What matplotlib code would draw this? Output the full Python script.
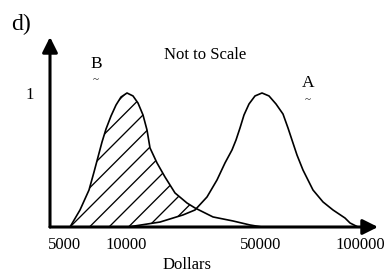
import matplotlib
matplotlib.use("Agg")
import matplotlib.pyplot as plt

plt.rcParams["font.family"] = ["Liberation Serif", "DejaVu Serif"]

# --- data (x: position along the "not to scale" axis, y: relative height) ---
b_x = [20, 30, 39, 44, 48, 52, 56, 61, 66, 71, 77, 83, 88, 93, 97, 100,
       107, 115, 125, 137, 145, 163, 183, 200, 212]
b_y = [0.0, 0.127, 0.276, 0.410, 0.522, 0.634, 0.731, 0.828, 0.910, 0.970,
       1.0, 0.978, 0.925, 0.836, 0.724, 0.590, 0.478, 0.373, 0.254, 0.179,
       0.142, 0.075, 0.045, 0.015, 0.0]

a_x = [78, 110, 133, 145, 157, 167, 175, 182, 186, 190, 194, 199, 205, 212,
       219, 226, 233, 238, 242, 247, 253, 263, 273, 283, 295, 300, 308]
a_y = [0.0, 0.037, 0.090, 0.127, 0.224, 0.351, 0.478, 0.575, 0.649, 0.739,
       0.836, 0.918, 0.978, 1.0, 0.978, 0.918, 0.843, 0.739, 0.649, 0.537,
       0.425, 0.276, 0.187, 0.127, 0.067, 0.030, 0.0]

tick_pos = [14.5, 76, 211, 310]
tick_labels = ["5000", "10000", "50000", "100000"]
crossing_x = 145  # where curve B drops below curve A

W, H = 388, 276
fig = plt.figure(figsize=(W / 100, H / 100), dpi=100)
ax = fig.add_axes([50 / W, 1 - 227 / H, 328 / W, 190 / H])
ax.set_xlim(0, 328)
ax.set_ylim(0, 190 / 134)
for s in ax.spines.values():
    s.set_visible(False)

# --- hatched region: under B, above A, left of the crossing ---
poly_x = [x for x in b_x if x <= crossing_x]
poly_y = b_y[:len(poly_x)]
a_left = [(x, y) for x, y in zip(a_x, a_y) if x <= crossing_x]
poly_x += [p[0] for p in reversed(a_left)]
poly_y += [p[1] for p in reversed(a_left)]
region = ax.fill(poly_x, poly_y, facecolor="none", edgecolor="none")[0]

# 45 degree hatch lines, ~19.5 px apart along the baseline
y_per_px = 1 / 134
for k in range(-4, 10):
    x0 = 20 + 19.5 * k
    ln, = ax.plot([x0, x0 + 200], [0, 200 * y_per_px], color="black", lw=0.95)
    ln.set_clip_path(region)

# --- curves ---
ax.plot(b_x, b_y, color="black", lw=1.2, solid_joinstyle="round")
ax.plot(a_x, a_y, color="black", lw=1.2, solid_joinstyle="round")

# --- axes with arrow heads ---
arrow = dict(arrowstyle="-|>", lw=2.2, color="black", mutation_scale=23,
             shrinkA=0, shrinkB=0)
ax.annotate("", xy=(328, 0), xytext=(0, 0), arrowprops=arrow,
            annotation_clip=False)
ax.annotate("", xy=(0, 190 / 134), xytext=(0, 0), arrowprops=arrow,
            annotation_clip=False)

# --- ticks ---
ax.set_xticks(tick_pos, tick_labels)
ax.set_yticks([1], ["1"])
ax.tick_params(axis="x", length=0, pad=7.5, labelsize=12)
ax.tick_params(axis="y", length=0, pad=11.5, labelsize=12)

# --- labels ---
ax.text(137.5, -0.284, "Dollars", ha="center", va="center", fontsize=12)
ax.text(155, 1.284, "Not to Scale", ha="center", va="center", fontsize=12)
ax.text(46, 1.216, "B", ha="center", va="center", fontsize=12.5)
ax.text(46, 1.097, "~", ha="center", va="center", fontsize=8)
ax.text(258, 1.075, "A", ha="center", va="center", fontsize=12.5)
ax.text(258, 0.948, "~", ha="center", va="center", fontsize=8)
fig.text(20.5 / W, 1 - 24 / H, "d)", ha="center", va="center", fontsize=17)

fig.savefig("out.png", dpi=100)
